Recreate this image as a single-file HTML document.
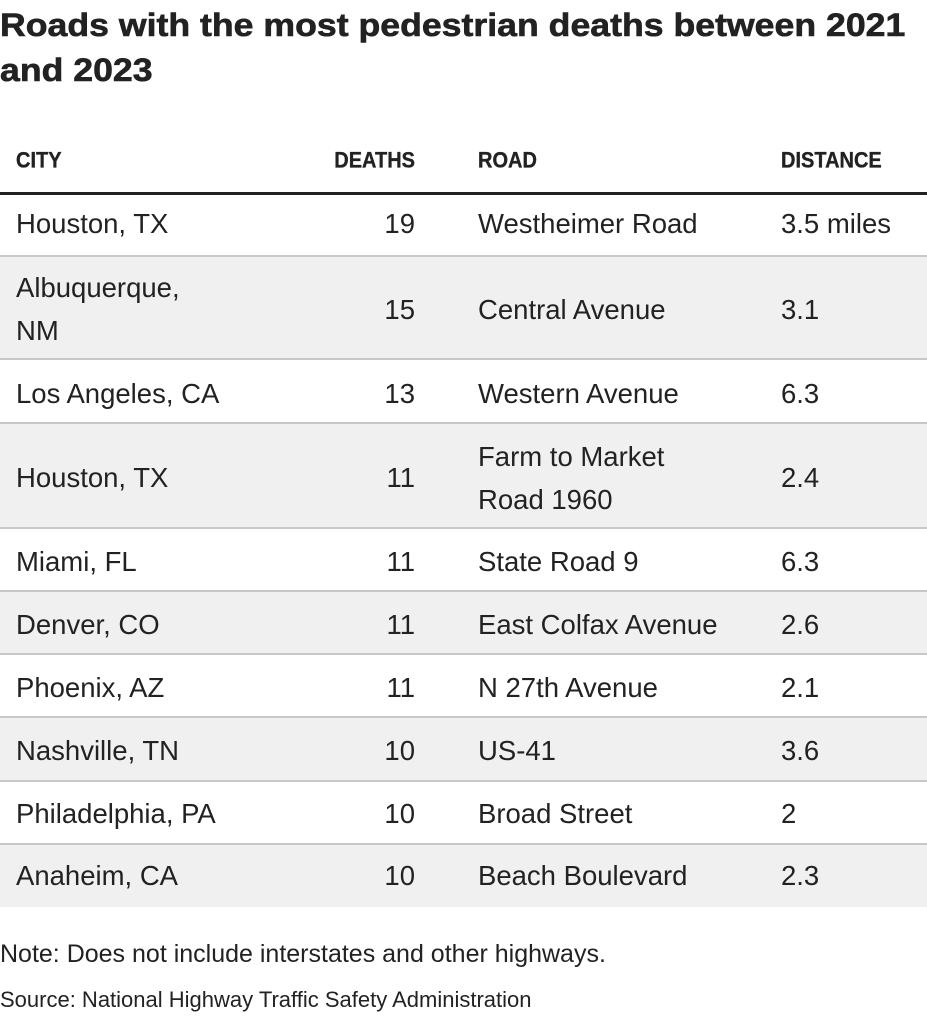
<!DOCTYPE html>
<html>
<head>
<meta charset="utf-8">
<style>
html,body{margin:0;padding:0;background:#fff;}
body{width:927px;height:1024px;position:relative;overflow:hidden;font-family:"Liberation Sans",Arial,sans-serif;color:#222;}
.t{position:absolute;white-space:nowrap;}
.title{left:0;top:3px;font-size:32px;font-weight:bold;line-height:45px;transform:scaleX(1.114);transform-origin:0 0;color:#222;-webkit-text-stroke:0.6px #222;}
.hd{font-size:20px;font-weight:bold;line-height:24px;top:150px;color:#222;transform:scaleY(1.12);transform-origin:0 100%;-webkit-text-stroke:0.3px #222;}
.row{position:absolute;left:0;width:927px;box-sizing:border-box;}
.g{background:#f0f0f0;}
.ln{border-bottom:2px solid #c8c8c8;}
.c{font-size:27.5px;line-height:43px;}
</style>
</head>
<body>
<div class="t title">Roads with the most pedestrian deaths between 2021<br>and 2023</div>

<div class="t hd" style="left:16px;">CITY</div>
<div class="t hd" style="right:512px;">DEATHS</div>
<div class="t hd" style="left:478px;">ROAD</div>
<div class="t hd" style="left:781px;">DISTANCE</div>

<div class="row" style="top:192px;height:3px;background:#222;"></div>

<div class="row ln" style="top:195px;height:62px;"></div>
<div class="row g ln" style="top:257px;height:103px;"></div>
<div class="row ln" style="top:360px;height:64px;"></div>
<div class="row g ln" style="top:424px;height:105px;"></div>
<div class="row ln" style="top:529px;height:63px;"></div>
<div class="row g ln" style="top:592px;height:63px;"></div>
<div class="row ln" style="top:655px;height:63px;"></div>
<div class="row g ln" style="top:718px;height:64px;"></div>
<div class="row ln" style="top:782px;height:63px;"></div>
<div class="row g" style="top:845px;height:62px;"></div>

<div class="t c" style="left:16px;top:202px;">Houston, TX</div>
<div class="t c" style="right:512px;top:202px;">19</div>
<div class="t c" style="left:478px;top:202px;">Westheimer Road</div>
<div class="t c" style="left:781px;top:202px;">3.5 miles</div>

<div class="t c" style="left:16px;top:266px;">Albuquerque,<br>NM</div>
<div class="t c" style="right:512px;top:288px;">15</div>
<div class="t c" style="left:478px;top:288px;">Central Avenue</div>
<div class="t c" style="left:781px;top:288px;">3.1</div>

<div class="t c" style="left:16px;top:372px;">Los Angeles, CA</div>
<div class="t c" style="right:512px;top:372px;">13</div>
<div class="t c" style="left:478px;top:372px;">Western Avenue</div>
<div class="t c" style="left:781px;top:372px;">6.3</div>

<div class="t c" style="left:16px;top:456px;">Houston, TX</div>
<div class="t c" style="right:512px;top:456px;">11</div>
<div class="t c" style="left:478px;top:435px;">Farm to Market<br>Road 1960</div>
<div class="t c" style="left:781px;top:456px;">2.4</div>

<div class="t c" style="left:16px;top:540px;">Miami, FL</div>
<div class="t c" style="right:512px;top:540px;">11</div>
<div class="t c" style="left:478px;top:540px;">State Road 9</div>
<div class="t c" style="left:781px;top:540px;">6.3</div>

<div class="t c" style="left:16px;top:603px;">Denver, CO</div>
<div class="t c" style="right:512px;top:603px;">11</div>
<div class="t c" style="left:478px;top:603px;">East Colfax Avenue</div>
<div class="t c" style="left:781px;top:603px;">2.6</div>

<div class="t c" style="left:16px;top:666px;">Phoenix, AZ</div>
<div class="t c" style="right:512px;top:666px;">11</div>
<div class="t c" style="left:478px;top:666px;">N 27th Avenue</div>
<div class="t c" style="left:781px;top:666px;">2.1</div>

<div class="t c" style="left:16px;top:729px;">Nashville, TN</div>
<div class="t c" style="right:512px;top:729px;">10</div>
<div class="t c" style="left:478px;top:729px;">US-41</div>
<div class="t c" style="left:781px;top:729px;">3.6</div>

<div class="t c" style="left:16px;top:792px;">Philadelphia, PA</div>
<div class="t c" style="right:512px;top:792px;">10</div>
<div class="t c" style="left:478px;top:792px;">Broad Street</div>
<div class="t c" style="left:781px;top:792px;">2</div>

<div class="t c" style="left:16px;top:854px;">Anaheim, CA</div>
<div class="t c" style="right:512px;top:854px;">10</div>
<div class="t c" style="left:478px;top:854px;">Beach Boulevard</div>
<div class="t c" style="left:781px;top:854px;">2.3</div>

<div class="t" style="left:0;top:939px;font-size:25px;line-height:30px;">Note: Does not include interstates and other highways.</div>
<div class="t" style="left:0;top:987px;font-size:22px;line-height:26px;">Source: National Highway Traffic Safety Administration</div>
</body>
</html>
